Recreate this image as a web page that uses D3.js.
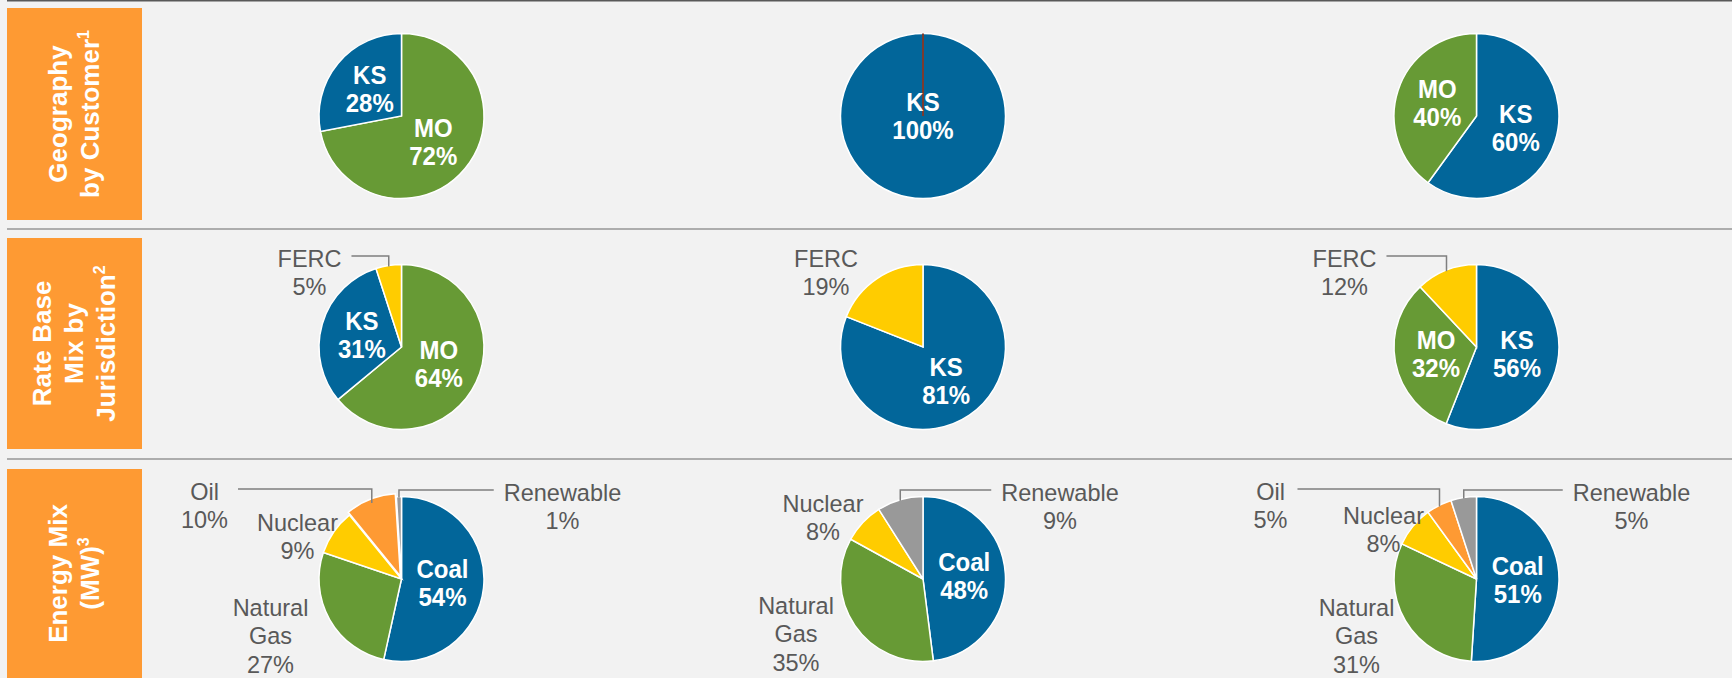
<!DOCTYPE html>
<html>
<head>
<meta charset="utf-8">
<script src="https://cdn.jsdelivr.net/npm/d3@7"></script>
<style>
  body { margin: 0; background: #f2f2f2; }
  svg { display: block; font-family: "Liberation Sans", Arial, sans-serif; }
</style>
</head>
<body>
<svg id="chart" width="1732" height="678"></svg>
<script>
// row titles (left orange bands); last entry of each is the footnote mark
const rowTitles = [
  ["Geography", "by Customer"],
  ["Rate Base", "Mix by", "Jurisdiction"],
  ["Energy Mix", "(MW)"]
];
const rowNotes = ["1", "2", "3"];

// Geography by customer
const geoLabels = [["MO", "KS"], ["KS", "MO"], ["KS", "MO"]];
const geoValues = [[72, 28], [100, 0], [60, 40]];

// Rate base mix by jurisdiction
const rateLabels = [["MO", "KS", "FERC"], ["KS", "FERC"], ["KS", "MO", "FERC"]];
const rateValues = [[64, 31, 5], [81, 19], [56, 32, 12]];

// Energy mix (MW)
const energyLabels = [
  ["Coal", "Natural Gas", "Nuclear", "Oil", "Renewable"],
  ["Coal", "Natural Gas", "Nuclear", "Renewable"],
  ["Coal", "Natural Gas", "Nuclear", "Oil", "Renewable"]
];
const energyValues = [[54, 27, 9, 10, 1], [48, 35, 8, 9], [51, 31, 8, 5, 5]];

const colors = {
  "KS": "#02669a", "MO": "#679a35", "FERC": "#ffcc00",
  "Coal": "#02669a", "Natural Gas": "#679a35", "Nuclear": "#ffcc00",
  "Oil": "#fe9a33", "Renewable": "#999999"
};
const insideCats = ["KS", "MO", "Coal"];

// layout
const colX = [401.5, 923, 1476.5];
const rowY = [116, 347, 579];
const radius = 82.5;
const bands = [[8, 220], [238, 449], [469, 678]];

// outside label placement, relative to pie centre: [dx, dy of first line, leader?]
const outside = {
  "1-0-FERC": [-92, -89, true],
  "1-1-FERC": [-97, -89, false],
  "1-2-FERC": [-132, -89, true],
  "2-0-Oil": [-197, -88, true],
  "2-0-Nuclear": [-104, -57, false],
  "2-0-Natural Gas": [-131, 28, false],
  "2-0-Renewable": [161, -87, true],
  "2-1-Nuclear": [-100, -76, false],
  "2-1-Natural Gas": [-127, 26, false],
  "2-1-Renewable": [137, -87, true],
  "2-2-Oil": [-206, -88, true],
  "2-2-Nuclear": [-93, -64, false],
  "2-2-Natural Gas": [-120, 28, false],
  "2-2-Renewable": [155, -87, true]
};
const explode = { "2-0-Oil": 3 };

const svg = d3.select("#chart");
svg.append("rect").attr("width", 1732).attr("height", 678).attr("fill", "#f2f2f2");

// separators
svg.append("line").attr("x1", 7).attr("x2", 1732).attr("y1", 0.75).attr("y2", 0.75)
  .attr("stroke", "#595959").attr("stroke-width", 1.5);
[229, 459].forEach(function(y) {
  svg.append("line").attr("x1", 7).attr("x2", 1732).attr("y1", y).attr("y2", y)
    .attr("stroke", "#969696").attr("stroke-width", 1.5);
});

// orange bands with rotated titles
bands.forEach(function(b, i) {
  svg.append("rect").attr("x", 7).attr("y", b[0]).attr("width", 135).attr("height", b[1] - b[0])
    .attr("fill", "#fe9a33");
  let lines = rowTitles[i];
  let cy = (b[0] + b[1]) / 2;
  lines.forEach(function(t, j) {
    let capMid = 74 + (j - (lines.length - 1) / 2) * 32;
    let txt = svg.append("text")
      .attr("transform", "translate(" + (capMid + 9.3) + "," + cy + ") rotate(-90)")
      .attr("text-anchor", "middle")
      .attr("font-size", 26).attr("font-weight", "bold").attr("fill", "#fff")
      .text(t);
    if (j === lines.length - 1) {
      txt.append("tspan").attr("font-size", 16).attr("dy", -10).text(rowNotes[i]);
    }
  });
});

const pie = d3.pie().sort(null).value(function(d) { return d.value; });
const arc = d3.arc().innerRadius(0).outerRadius(radius);
const edgeArc = d3.arc().innerRadius(radius - 1).outerRadius(radius - 1);

function drawPie(row, col, labels, values) {
  let data = labels.map(function(l, i) { return { cat: l, value: values[i] }; });
  let total = d3.sum(values);
  let arcs = pie(data);
  let g = svg.append("g").attr("transform", "translate(" + colX[col] + "," + rowY[row] + ")");

  arcs.forEach(function(d) {
    let key = row + "-" + col + "-" + d.data.cat;
    if (d.data.value === 0) {
      let a = d.startAngle;
      g.append("line").attr("x1", 0).attr("y1", 0)
        .attr("x2", radius * Math.sin(a)).attr("y2", -radius * Math.cos(a))
        .attr("stroke", "#7b3b2f").attr("stroke-width", 2);
      return;
    }
    let off = explode[key] || 0;
    let mid = (d.startAngle + d.endAngle) / 2;
    g.insert("path", "line")
      .attr("d", arc(d))
      .attr("transform", "translate(" + off * Math.sin(mid) + "," + (-off * Math.cos(mid)) + ")")
      .attr("fill", colors[d.data.cat])
      .attr("stroke", "#fff").attr("stroke-width", 1.5);
  });

  arcs.forEach(function(d) {
    if (d.data.value === 0) return;
    let key = row + "-" + col + "-" + d.data.cat;
    let pct = d.data.value + "%";
    if (insideCats.indexOf(d.data.cat) >= 0) {
      let c = d.data.value === total ? [0, 0] : arc.centroid(d);
      [d.data.cat, pct].forEach(function(t, j) {
        let y = c[1] + (j - 0.5) * 28 + 8.6;
        g.append("text")
          .attr("transform", "translate(" + c[0] + "," + y + ") scale(1,1.05)")
          .attr("text-anchor", "middle")
          .attr("font-size", 24).attr("font-weight", "bold").attr("fill", "#fff")
          .text(t);
      });
    } else {
      let pos = outside[key];
      let lines = d.data.cat === "Natural Gas" ? ["Natural", "Gas", pct] : [d.data.cat, pct];
      let maxW = 0;
      lines.forEach(function(t, j) {
        let y = pos[1] + j * 28.5 + 8.5;
        let txt = g.append("text")
          .attr("transform", "translate(" + pos[0] + "," + y + ") scale(1,1.05)")
          .attr("text-anchor", "middle")
          .attr("font-size", 23.5).attr("fill", "#595959")
          .text(t);
        maxW = Math.max(maxW, txt.node().getComputedTextLength());
      });
      if (pos[2]) {
        let p = edgeArc.centroid(d);
        let hy = pos[1] - 2;
        let sx = pos[0] < 0 ? pos[0] + maxW / 2 + 10 : pos[0] - maxW / 2 - 10;
        g.append("path")
          .attr("d", "M" + sx + "," + hy + "H" + p[0] + "V" + p[1])
          .attr("fill", "none").attr("stroke", "#7f7f7f").attr("stroke-width", 1.5);
      }
    }
  });
}

for (let c = 0; c < 3; c++) {
  drawPie(0, c, geoLabels[c], geoValues[c]);
  drawPie(1, c, rateLabels[c], rateValues[c]);
  drawPie(2, c, energyLabels[c], energyValues[c]);
}
</script>
</body>
</html>
